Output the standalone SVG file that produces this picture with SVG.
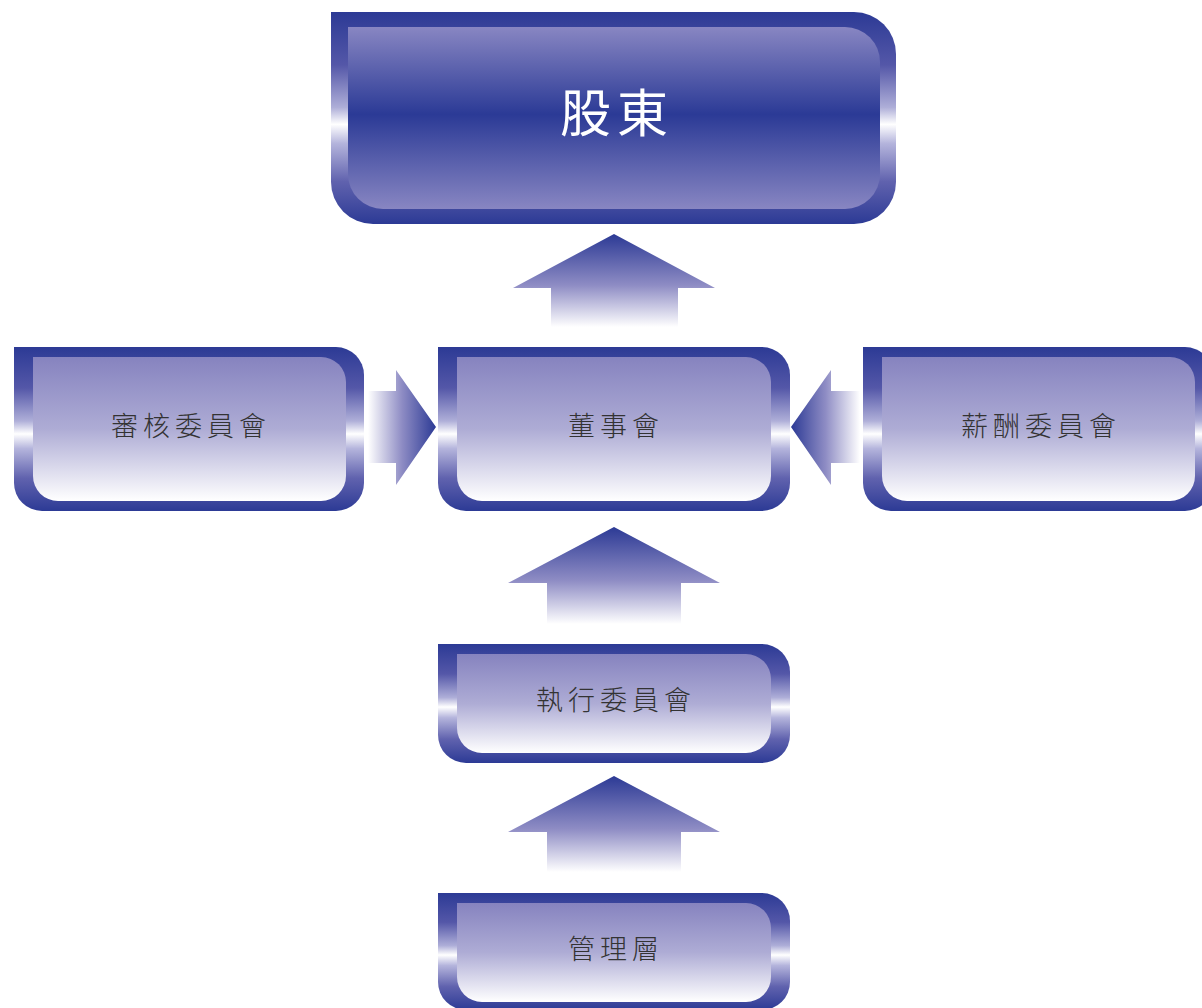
<svg xmlns="http://www.w3.org/2000/svg" width="1202" height="1008" viewBox="0 0 1202 1008">
<style>
.lbl{font-family:"Noto Sans CJK TC","Noto Sans CJK SC",sans-serif;font-size:27px;font-weight:300;fill:#333333;letter-spacing:5px;text-anchor:middle}
.top{font-family:"Noto Sans CJK TC","Noto Sans CJK SC",sans-serif;font-size:51px;fill:#ffffff;letter-spacing:6px;text-anchor:middle}
.frame{fill:url(#gFrame)}
.inner{fill:url(#gInner)}
</style>
<defs>
<linearGradient id="gFrame" x1="0" y1="0" x2="0" y2="1">
<stop offset="0" stop-color="#2c3a95"/>
<stop offset="0.25" stop-color="#5457a8"/>
<stop offset="0.45" stop-color="#aeaed8"/>
<stop offset="0.53" stop-color="#ffffff"/>
<stop offset="0.62" stop-color="#b4b4dc"/>
<stop offset="0.8" stop-color="#6062ae"/>
<stop offset="1" stop-color="#2c3a95"/>
</linearGradient>
<linearGradient id="gInner" x1="0" y1="0" x2="0" y2="1">
<stop offset="0" stop-color="#8683bf"/>
<stop offset="0.5" stop-color="#aeacd5"/>
<stop offset="1" stop-color="#ffffff"/>
</linearGradient>
<linearGradient id="gTopInner" x1="0" y1="0" x2="0" y2="1">
<stop offset="0" stop-color="#8886c2"/>
<stop offset="0.48" stop-color="#2b3a96"/>
<stop offset="1" stop-color="#8886c2"/>
</linearGradient>
<linearGradient id="gUp" x1="0" y1="0" x2="0" y2="1">
<stop offset="0" stop-color="#2c3a95"/>
<stop offset="0.55" stop-color="#8e8cc4"/>
<stop offset="1" stop-color="#ffffff"/>
</linearGradient>
<linearGradient id="gRight" x1="1" y1="0" x2="0" y2="0">
<stop offset="0" stop-color="#2c3a95"/>
<stop offset="0.5" stop-color="#8e8cc4"/>
<stop offset="1" stop-color="#ffffff"/>
</linearGradient>
<linearGradient id="gLeft" x1="0" y1="0" x2="1" y2="0">
<stop offset="0" stop-color="#2c3a95"/>
<stop offset="0.5" stop-color="#8e8cc4"/>
<stop offset="1" stop-color="#ffffff"/>
</linearGradient>
</defs>

<g id="connectors">
<path fill="url(#gUp)" d="M614 234 L715 288 H678 V327 H551 V288 H513 Z"/>
<path fill="url(#gUp)" d="M614 527 L720 583 H681 V624 H547 V583 H508 Z"/>
<path fill="url(#gUp)" d="M614 776 L720 832 H681 V872 H547 V832 H508 Z"/>
<path fill="url(#gRight)" d="M436 427 L396 370 V391 H368 V463 H396 V485 Z"/>
<path fill="url(#gLeft)" d="M791 427 L831 370 V391 H860 V463 H831 V485 Z"/>
</g>

<g id="node-shareholders">
<path class="frame" d="M331 12 H854 A42 42 0 0 1 896 54 V182 A42 42 0 0 1 854 224 H373 A42 42 0 0 1 331 182 Z"/>
<path fill="url(#gTopInner)" d="M348 27 H845 A35 35 0 0 1 880 62 V174 A35 35 0 0 1 845 209 H383 A35 35 0 0 1 348 174 Z"/>
<text class="top" x="617" y="132">股東</text>
</g>

<g id="node-audit">
<path class="frame" d="M14 347 H336 A28 28 0 0 1 364 375 V483 A28 28 0 0 1 336 511 H42 A28 28 0 0 1 14 483 Z"/>
<path class="inner" d="M33 357 H321 A25 25 0 0 1 346 382 V476 A25 25 0 0 1 321 501 H58 A25 25 0 0 1 33 476 Z"/>
<text class="lbl" x="191" y="436">審核委員會</text>
</g>

<g id="node-board">
<path class="frame" d="M438 347 H762 A28 28 0 0 1 790 375 V483 A28 28 0 0 1 762 511 H466 A28 28 0 0 1 438 483 Z"/>
<path class="inner" d="M457 357 H746 A25 25 0 0 1 771 382 V476 A25 25 0 0 1 746 501 H482 A25 25 0 0 1 457 476 Z"/>
<text class="lbl" x="616" y="436">董事會</text>
</g>

<g id="node-remuneration">
<path class="frame" d="M863 347 H1185 A28 28 0 0 1 1213 375 V483 A28 28 0 0 1 1185 511 H891 A28 28 0 0 1 863 483 Z"/>
<path class="inner" d="M882 357 H1170 A25 25 0 0 1 1195 382 V476 A25 25 0 0 1 1170 501 H907 A25 25 0 0 1 882 476 Z"/>
<text class="lbl" x="1041" y="436">薪酬委員會</text>
</g>

<g id="node-executive">
<path class="frame" d="M438 644 H762 A28 28 0 0 1 790 672 V735 A28 28 0 0 1 762 763 H466 A28 28 0 0 1 438 735 Z"/>
<path class="inner" d="M457 654 H746 A25 25 0 0 1 771 679 V728 A25 25 0 0 1 746 753 H482 A25 25 0 0 1 457 728 Z"/>
<text class="lbl" x="616" y="710">執行委員會</text>
</g>

<g id="node-management">
<path class="frame" d="M438 893 H762 A28 28 0 0 1 790 921 V982 A28 28 0 0 1 762 1010 H466 A28 28 0 0 1 438 982 Z"/>
<path class="inner" d="M457 903 H746 A25 25 0 0 1 771 928 V977 A25 25 0 0 1 746 1002 H482 A25 25 0 0 1 457 977 Z"/>
<text class="lbl" x="616" y="959">管理層</text>
</g>
</svg>
